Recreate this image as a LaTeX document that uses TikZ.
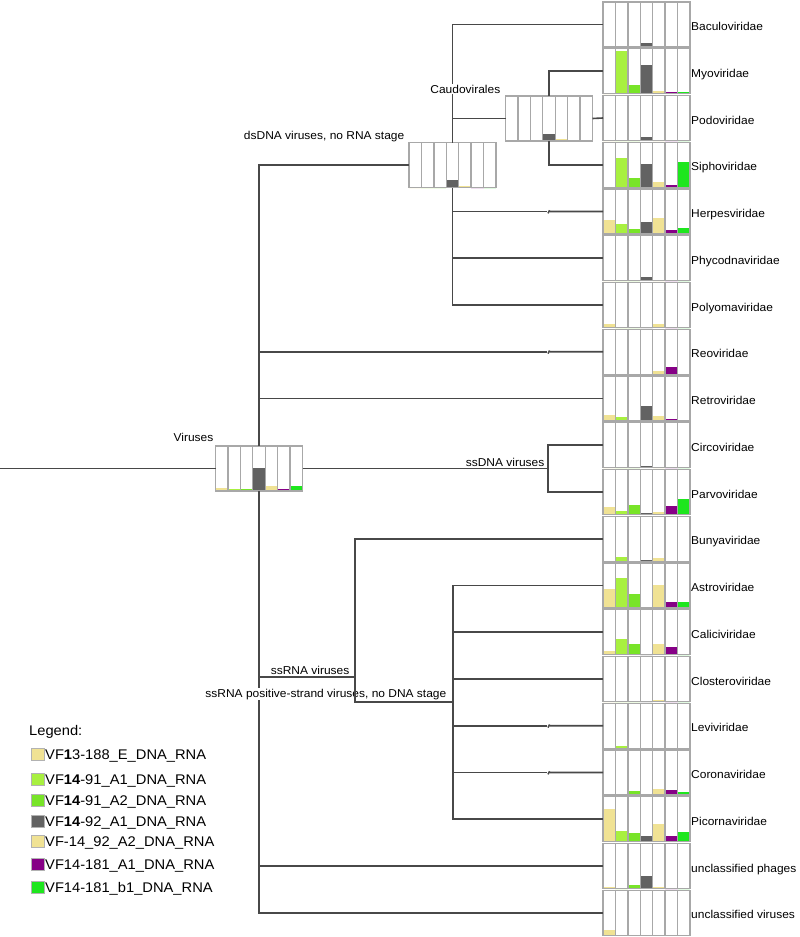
\documentclass[tikz,border=0pt]{standalone}
\usepackage{fontspec}
\setmainfont[FakeStretch=1.05]{Liberation Sans}
\usetikzlibrary{calc}
\definecolor{bar1}{HTML}{F0E294}
\definecolor{bar2}{HTML}{A8F040}
\definecolor{bar3}{HTML}{78E428}
\definecolor{bar4}{HTML}{626262}
\definecolor{bar5}{HTML}{F0E294}
\definecolor{bar6}{HTML}{860086}
\definecolor{bar7}{HTML}{1EE61E}
\definecolor{gridc}{HTML}{A8A8A8}
\definecolor{linec}{HTML}{484848}
\tikzset{
  chartbox/.style={draw=gridc, line width=1.4pt, minimum width=87pt, minimum height=45pt, inner sep=0pt, outer sep=0pt, fill=white},
  link/.style={draw=linec, line width=1.6pt},
  leaflabel/.style={anchor=base west, inner sep=0pt, font=\fontsize{11.4}{13}\selectfont},
  clade/.style={anchor=base east, inner sep=0.5pt, fill=white, font=\fontsize{11.4}{13}\selectfont},
  swatch/.style={draw=gray!60, line width=0.6pt, minimum width=13pt, minimum height=12pt, inner sep=0pt},
  legtext/.style={anchor=base west, inner sep=0pt, font=\fontsize{14}{16}\selectfont}
}
\newcommand\chart[4]{%
  \node[chartbox] (#1) at (#2,#3) {};
  \foreach \h [count=\i] in {#4} {%
    \fill[fill=bar\i] ([xshift={(\i-1)*87/7}]#1.south west) rectangle ++(87/7,-\h);
  }
  \foreach \i in {1,...,6} {%
    \draw[gridc, line width=1.4pt] ([xshift={\i*87/7}]#1.south west) -- ([xshift={\i*87/7}]#1.north west);
  }
  \draw[gridc, line width=1.4pt] (#1.south west) rectangle (#1.north east);
}
\newcommand\tickline[2]{%
  \draw[link] (#1) -- ([xshift=-56.5pt]#2.west);
  \draw[link] ([xshift=-55pt,yshift=-1.8pt]#2.west) -- ([xshift=-53.8pt,yshift=0.6pt]#2.west) -- ([xshift=-52.5pt]#2.west) -- (#2.west);
}
\begin{document}
\begin{tikzpicture}[x=1pt,y=-1pt]
\fill[white] (0,0) rectangle (800,937);
\useasboundingbox (0,0) rectangle (800,937);

% leaf charts
\chart{L0}{646.5}{24.5}{0,0,0,4,1.5,0,0}
\chart{L1}{646.5}{71.25}{0,43,9,29,3,2,2}
\chart{L2}{646.5}{118}{0,0,0,4,0,0,0}
\chart{L3}{646.5}{164.75}{0,29,9,23,5,2.5,25}
\chart{L4}{646.5}{211.5}{14,10,5,12,16,4,6}
\chart{L5}{646.5}{258.25}{0,0,0,4,0,0,0}
\chart{L6}{646.5}{305}{3.5,0,0,0,3.5,0,0}
\chart{L7}{646.5}{351.75}{0,0,0,0,3,7,0}
\chart{L8}{646.5}{398.5}{6,4,0,15,5,2,0}
\chart{L9}{646.5}{445.25}{0,0,0,2,0,0,0}
\chart{L10}{646.5}{492}{8,4,10,1.5,3,9,16}
\chart{L11}{646.5}{538.75}{0,4,0,1.5,3,0,0}
\chart{L12}{646.5}{585.5}{19,30,14,0,23,6,6}
\chart{L13}{646.5}{632.25}{4,16,11,0,11,8,0}
\chart{L14}{646.5}{679}{0,0,0,0,2,0,0}
\chart{L15}{646.5}{725.75}{0,2,0,0,0,0,0}
\chart{L16}{646.5}{772.5}{0,0,4,0,6,5,3}
\chart{L17}{646.5}{819.25}{33,11,9,6,18,6,10}
\chart{L18}{646.5}{866}{2,0,4,13,2,0,0}
\chart{L19}{646.5}{912.75}{5,0,0,0,0,0,0}

% internal charts
\chart{V}{259}{468.5}{3,2,2,23,5,2,5}
\chart{D}{452.5}{165}{0,0,0,8,2,0,0}
\chart{C}{549}{118.5}{0,0,0,7,2,0,0}

% leaf labels
\node[leaflabel] (t0) at (691,30.5) {Baculoviridae};
\node[leaflabel] (t1) at (691,77.25) {Myoviridae};
\node[leaflabel] (t2) at (691,124) {Podoviridae};
\node[leaflabel] (t3) at (691,170.75) {Siphoviridae};
\node[leaflabel] (t4) at (691,217.5) {Herpesviridae};
\node[leaflabel] (t5) at (691,264.25) {Phycodnaviridae};
\node[leaflabel] (t6) at (691,311) {Polyomaviridae};
\node[leaflabel] (t7) at (691,357.75) {Reoviridae};
\node[leaflabel] (t8) at (691,404.5) {Retroviridae};
\node[leaflabel] (t9) at (691,451.25) {Circoviridae};
\node[leaflabel] (t10) at (691,498) {Parvoviridae};
\node[leaflabel] (t11) at (691,544.75) {Bunyaviridae};
\node[leaflabel] (t12) at (691,591.5) {Astroviridae};
\node[leaflabel] (t13) at (691,638.25) {Caliciviridae};
\node[leaflabel] (t14) at (691,685) {Closteroviridae};
\node[leaflabel] (t15) at (691,731.75) {Leviviridae};
\node[leaflabel] (t16) at (691,778.5) {Coronaviridae};
\node[leaflabel] (t17) at (691,825.25) {Picornaviridae};
\node[leaflabel] (t18) at (691,872) {unclassified phages};
\node[leaflabel] (t19) at (691,918.75) {unclassified viruses};

% tree
\coordinate (root) at (0,468.5);
\coordinate (S) at (548,468.5);
\coordinate (R) at (355,677);
\coordinate (P) at (453,702);
\draw[link] (root) -- (V.west);
\draw[link] (V.north) |- (D.west);
\tickline{V.north |- L7.west}{L7}
\draw[link] (V.north |- L8.west) -- (L8.west);
\draw[link] (V.east) -- (S);
\draw[link] (L9.west) -| (S) |- (L10.west);
\draw[link] (V.south) |- (L19.west);
\draw[link] (V.south |- L18.west) -- (L18.west);
\draw[link] (V.south |- R) -- (R);
\draw[link] (L11.west) -| (R);
\draw[link] (L12.west) -| (P) |- (L17.west);
\draw[link] (P |- L13.west) -- (L13.west);
\draw[link] (P |- L14.west) -- (L14.west);
\tickline{P |- L15.west}{L15}
\tickline{P |- L16.west}{L16}
% dsDNA
\draw[link] (D.north) |- (L0.west);
\draw[link] (D.south) |- (L6.west);
\draw[link] (D.north |- C.west) -- (C.west);
\tickline{D.south |- L4.west}{L4}
\draw[link] (D.south |- L5.west) -- (L5.west);
% Caudovirales
\draw[link] (C.north) |- (L1.west);
\draw[link] (C.south) |- (L3.west);
\draw[link] (C.east) -- (L2.west);

% clade labels
\node[clade] (lV) at (214,441) {Viruses};
\node[clade] (lD) at (405,139) {dsDNA viruses, no RNA stage};
\node[clade] (lC) at (501,93) {Caudovirales};
\node[clade] (lS) at (545,466) {ssDNA viruses};
\node[clade] (lR) at (350,674) {ssRNA viruses};
\node[clade] (lP) at (447,697) {ssRNA positive-strand viruses, no DNA stage};
\draw[link] (R) -- (R |- P) -- (P);

% legend
\node[legtext] (lg) at (29,735) {Legend:};
\node[swatch, fill=bar1] (s1) at (37.5,754) {};
\node[swatch, fill=bar2] (s2) at (37.5,779) {};
\node[swatch, fill=bar3] (s3) at (37.5,800.5) {};
\node[swatch, fill=bar4] (s4) at (37.5,821.5) {};
\node[swatch, fill=bar5] (s5) at (37.5,841.5) {};
\node[swatch, fill=bar6] (s6) at (37.5,864.5) {};
\node[swatch, fill=bar7] (s7) at (37.5,887.5) {};
\node[legtext] (g1) at (45,759) {VF\textbf{1}3-188\_E\_DNA\_RNA};
\node[legtext] (g2) at (45,784) {VF\textbf{14}-91\_A1\_DNA\_RNA};
\node[legtext] (g3) at (45,805.5) {VF\textbf{14}-91\_A2\_DNA\_RNA};
\node[legtext] (g4) at (45,826.5) {VF\textbf{14}-92\_A1\_DNA\_RNA};
\node[legtext] (g5) at (45,846.5) {VF-14\_92\_A2\_DNA\_RNA};
\node[legtext] (g6) at (45,869.5) {VF14-181\_A1\_DNA\_RNA};
\node[legtext] (g7) at (45,892.5) {VF14-181\_b1\_DNA\_RNA};
\end{tikzpicture}
\end{document}
